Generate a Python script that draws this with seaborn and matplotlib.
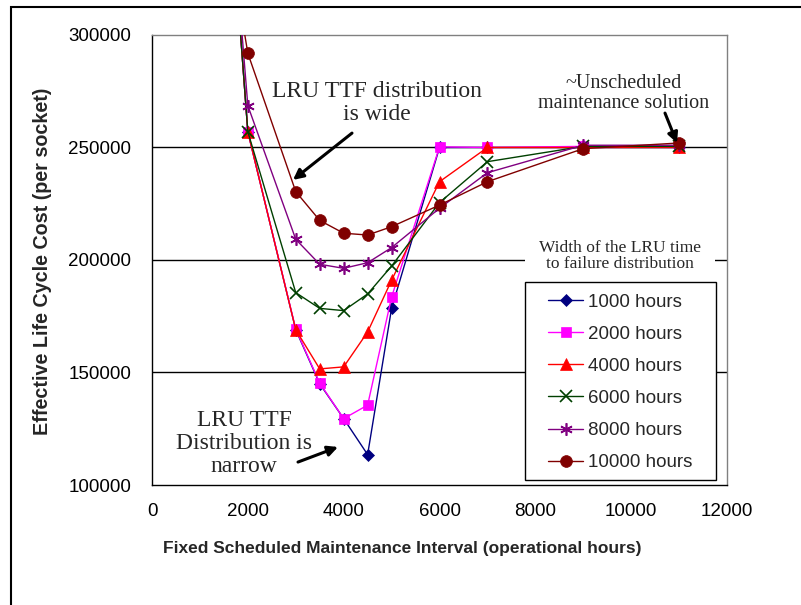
import matplotlib
matplotlib.use("Agg")
import matplotlib.pyplot as plt
import matplotlib.patches as mpatches
import seaborn as sns
import pandas as pd

# ---- data ----
intervals = [1500, 2000, 3000, 3500, 4000, 4500, 5000, 6000, 7000, 9000, 11000]
cost_1000 = [400000, 257000, 169000, 145000, 129500, 113500, 178500, 250000, 250000, 250000, 250000]
cost_2000 = [400000, 257000, 169300, 145300, 129500, 135500, 183500, 250300, 250000, 250500, 250000]
cost_4000 = [400000, 257000, 169000, 151600, 152500, 168000, 191000, 234800, 250000, 250000, 250000]
cost_6000 = [400000, 257000, 185500, 178500, 177500, 184900, 197300, 225500, 243700, 250500, 250500]
cost_8000 = [400000, 268600, 209200, 198100, 196300, 198800, 205500, 223000, 238800, 251000, 251000]
cost_10000 = [356000, 291900, 230400, 217600, 211900, 211100, 214800, 224400, 234800, 249500, 252000]
series_labels = ["1000 hours", "2000 hours", "4000 hours", "6000 hours", "8000 hours", "10000 hours"]
x_ticks = [0, 2000, 4000, 6000, 8000, 10000, 12000]
y_ticks = [100000, 150000, 200000, 250000, 300000]
x_tick_labels = ["0", "2000", "4000", "6000", "8000", "10000", "12000"]
y_tick_labels = ["100000", "150000", "200000", "250000", "300000"]

series_values = [cost_1000, cost_2000, cost_4000, cost_6000, cost_8000, cost_10000]
colors = ["#000080", "#FF00FF", "#FF0000", "#004000", "#800080", "#800000"]
markers = ["D", "s", "^", "x", (6, 2, 0), "o"]
msizes = [6, 7.5, 8.5, 8, 9, 8.5]

sns.set_style("white")
plt.rcParams["font.family"] = ["Liberation Sans", "DejaVu Sans"]

fig = plt.figure(figsize=(8.01, 6.05), dpi=100)
ax = fig.add_axes([152 / 801, 1 - 485 / 605, 575 / 801, 450 / 605])

# gridlines
for gy in [150000, 200000, 250000]:
    ax.axhline(gy, color="black", lw=1, zorder=1)

for lab, vals, c, m, ms in zip(series_labels, series_values, colors, markers, msizes):
    df = pd.DataFrame({"x": intervals, "y": vals})
    sns.lineplot(data=df, x="x", y="y", ax=ax, color=c, marker=m, markersize=ms,
                 markeredgecolor=c, markerfacecolor=c,
                 markeredgewidth=1.2 if m in ("x", (6, 2, 0)) else 0.5,
                 lw=1, label=lab, zorder=3, clip_on=True)

ax.set_xlim(0, 12000)
ax.set_ylim(100000, 300000)
ax.set_xticks(x_ticks)
ax.set_xticklabels(x_tick_labels)
ax.set_yticks(y_ticks)
ax.set_yticklabels(y_tick_labels)
ax.tick_params(axis="both", direction="out", length=5, width=1, color="black",
               labelsize=13.5, labelcolor="black")
ax.tick_params(axis="y", pad=10)
ax.tick_params(axis="x", pad=8)

for side in ["left", "bottom"]:
    ax.spines[side].set_color("black")
    ax.spines[side].set_linewidth(1)
for side in ["top", "right"]:
    ax.spines[side].set_color("#808080")
    ax.spines[side].set_linewidth(1)

xl = ax.set_xlabel("Fixed Scheduled Maintenance Interval (operational hours)",
                   fontsize=12.5, fontweight="bold")
xl.set_va("center")
ax.xaxis.set_label_coords(0.4357, -0.14)
yl = ax.set_ylabel("Effective Life Cycle Cost (per socket)", fontsize=14.2, fontweight="bold")
yl.set_va("center")
ax.yaxis.set_label_coords(-0.191, 0.498)

serif = ["Liberation Serif", "DejaVu Serif"]
ax.text(4696, 269800, "LRU TTF distribution\nis wide", ha="center", va="center",
        multialignment="center", fontsize=17, family=serif, linespacing=1.15, zorder=4)
ax.text(9851, 274000, "~Unscheduled\nmaintenance solution", ha="center", va="center",
        multialignment="center", fontsize=14.5, family=serif, linespacing=1.12, zorder=4)
ax.text(1920, 118500, "LRU TTF\nDistribution is\nnarrow", ha="center", va="center",
        multialignment="center", fontsize=17, family=serif, linespacing=1.13, zorder=4)
ax.text(9767, 201700, "Width of the LRU time\nto failure distribution", ha="center", va="center",
        multialignment="center", fontsize=12.5, family=serif, linespacing=1.05, zorder=4,
        bbox=dict(boxstyle="square,pad=0.8", fc="white", ec="none"))

arrow = dict(arrowstyle="-|>", lw=2.2, color="black", mutation_scale=15, shrinkA=0, shrinkB=0)
ax.annotate("", xy=(2943, 235600), xytext=(4174, 256400), arrowprops=arrow, zorder=5)
ax.annotate("", xy=(10957, 252000), xytext=(10706, 265300), arrowprops=arrow, zorder=5)
ax.annotate("", xy=(3882, 116900), xytext=(3047, 110200), arrowprops=arrow, zorder=5)

# legend frame drawn separately for exact placement
frame = mpatches.Rectangle(((525 - 152) / 575, (485 - 480) / 450), (716 - 525) / 575, (480 - 282) / 450,
                           transform=ax.transAxes, fc="white", ec="black", lw=1, zorder=5)
ax.add_patch(frame)
leg = ax.legend(loc="upper left", bbox_to_anchor=((548 - 152) / 575, (485 - 293.5) / 450),
                frameon=False, fontsize=13.5, handlelength=1.87, handletextpad=0.27,
                labelspacing=0.8, borderpad=0, borderaxespad=0)
leg.set_zorder(6)

fig.patches.append(mpatches.Rectangle((11 / 801, -0.1), 1.2, 1 - 7 / 605 + 0.1,
                                      transform=fig.transFigure, fill=False, ec="black", lw=1.5))

fig.savefig("out.png", dpi=100)
